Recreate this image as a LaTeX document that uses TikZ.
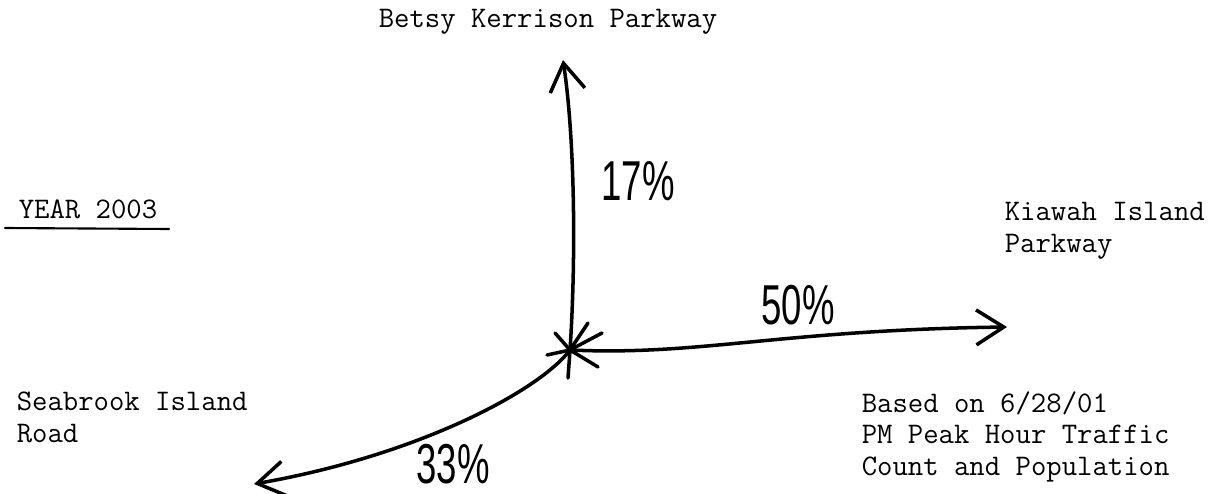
\documentclass[tikz,border=0pt]{standalone}
\usepackage{fontspec}
\usepackage{tikz}
\usetikzlibrary{arrows.meta, calc}
\newfontfamily\manual{Liberation Sans}

\begin{document}
\begin{tikzpicture}[x=0.2mm, y=-0.2mm,
  >={Straight Barb[length=5.5mm, width=7mm]}, line width=2pt, line cap=round,
  rotulo/.style={font=\ttfamily\fontsize{17}{17.9}\selectfont, align=left, anchor=base west, inner sep=0pt},
  pct/.style={font=\manual\fontsize{32}{32}\selectfont, xscale=0.65, inner sep=0pt}]
  \useasboundingbox (0,0) rectangle (1216,493);

  % textos (base de la ultima linea)
  \node[rotulo, anchor=base] (betsy) at (548,28) {Betsy Kerrison Parkway};
  \node[rotulo] (year)   at (17,218)  {YEAR 2003};
  \node[rotulo] (kiawah) at (1003,252) {Kiawah Island\\Parkway};
  \node[rotulo] (seab)   at (15,442)  {Seabrook Island\\Road};
  \node[rotulo] (nota)   at (860,475) {Based on 6/28/01\\PM Peak Hour Traffic\\Count and Population};
  \draw[line width=1.2pt] ($(year.base west)+(-12,10)$) -- ($(year.base east)+(10,11)$);

  % cruce
  \coordinate (c)  at (570,350);
  \coordinate (n)  at (563,60);
  \coordinate (e)  at (1007,327);
  \coordinate (sw) at (254,484);

  \draw[->] (c) .. controls (576,260) and (575,140) .. (n);
  \draw[->] (c) .. controls (700,356) and (780,330) .. (e);
  \draw[->] (c) .. controls (540,390) and (420,455) .. (sw);

  % asterisco del cruce
  \foreach \p in {(555,333), (598,367), (588,323), (602,333), (547,355), (568,378)}
    \draw (c) -- \p;

  % porcentajes
  \node[pct] (p17) at (638,181) {17\%};
  \node[pct] (p50) at (798,305) {50\%};
  \node[pct] (p33) at (453,464) {33\%};
\end{tikzpicture}
\end{document}
